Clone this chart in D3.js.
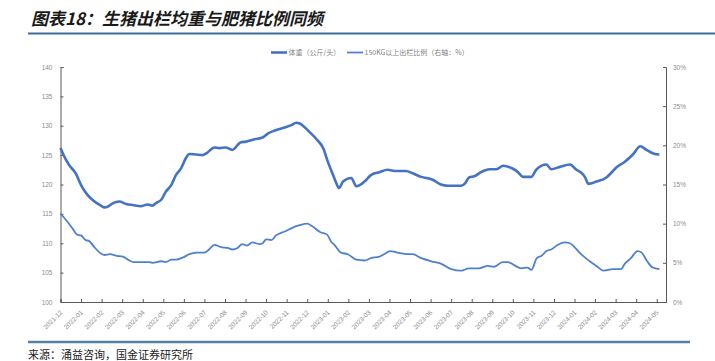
<!DOCTYPE html>
<html><head><meta charset="utf-8">
<script src="https://cdn.jsdelivr.net/npm/d3@7"></script>
<style>html,body{margin:0;padding:0;background:#fff;}</style>
</head><body>
<svg id="c" width="715" height="361"></svg>
<script>
const titleText = "图表18：生猪出栏均重与肥猪比例同频";
const sourceText = "来源：涌益咨询，国金证券研究所";
const seriesNames = ["体重（公斤/头）", "150KG以上出栏比例（右轴：%）"];
const xTickLabels = ["2021-12","2022-01","2022-02","2022-03","2022-04","2022-05","2022-06","2022-07","2022-08","2022-09","2022-10","2022-11","2022-12","2023-01","2023-02","2023-03","2023-04","2023-05","2023-06","2023-07","2023-08","2023-09","2023-10","2023-11","2023-12","2024-01","2024-02","2024-03","2024-04","2024-05"];
const leftTicks = [100,105,110,115,120,125,130,135,140];
const rightTicks = [0,5,10,15,20,25,30];

const weightDates = ["2021-12-01","2021-12-07","2021-12-14","2021-12-24","2022-01-01","2022-01-11","2022-01-18","2022-01-31","2022-02-05","2022-02-09","2022-02-16","2022-02-25","2022-03-07","2022-03-17","2022-03-29","2022-04-08","2022-04-15","2022-04-21","2022-04-28","2022-05-05","2022-05-13","2022-05-20","2022-05-28","2022-06-04","2022-06-09","2022-06-19","2022-06-28","2022-07-05","2022-07-16","2022-07-23","2022-08-02","2022-08-12","2022-08-25","2022-09-02","2022-09-14","2022-09-26","2022-10-04","2022-10-14","2022-10-29","2022-11-08","2022-11-15","2022-11-20","2022-12-02","2022-12-15","2022-12-25","2023-01-01","2023-01-09","2023-01-14","2023-01-18","2023-01-24","2023-02-05","2023-02-12","2023-02-23","2023-03-04","2023-03-17","2023-03-29","2023-04-11","2023-04-25","2023-05-05","2023-05-18","2023-06-04","2023-06-16","2023-06-26","2023-07-16","2023-07-22","2023-07-28","2023-08-05","2023-08-15","2023-08-28","2023-09-07","2023-09-17","2023-09-29","2023-10-09","2023-10-16","2023-10-29","2023-11-05","2023-11-13","2023-11-20","2023-11-27","2023-12-10","2023-12-25","2024-01-04","2024-01-14","2024-01-17","2024-01-22","2024-02-03","2024-02-17","2024-02-24","2024-03-02","2024-03-14","2024-03-27","2024-04-07","2024-04-16","2024-04-28","2024-05-05"];
const weightValues = [126.2,124.7,123.3,121.9,119.9,118.2,117.4,116.4,116.1,116.2,116.8,117.1,116.7,116.5,116.3,116.6,116.4,116.9,117.4,118.8,119.9,121.6,122.8,124.5,125.2,125.1,125.0,125.4,126.3,126.2,126.3,125.9,127.2,127.3,127.7,128.0,128.7,129.2,129.7,130.1,130.5,130.4,129.2,127.7,126.2,123.9,121.6,120.2,119.4,120.5,121.1,119.7,120.5,121.6,122.1,122.5,122.3,122.3,121.9,121.3,120.8,120.0,119.8,119.8,120.2,121.2,121.4,122.1,122.6,122.6,123.2,122.8,122.1,121.3,121.3,122.5,123.2,123.4,122.6,123.0,123.4,122.5,121.7,121.2,120.1,120.5,121.2,122.0,122.9,123.8,125.1,126.5,125.9,125.2,125.1];

const ratioDates = ["2021-12-01","2021-12-09","2021-12-19","2021-12-26","2022-01-01","2022-01-08","2022-01-13","2022-01-20","2022-01-31","2022-02-05","2022-02-12","2022-02-22","2022-03-02","2022-03-12","2022-03-18","2022-03-31","2022-04-10","2022-04-15","2022-04-28","2022-05-05","2022-05-13","2022-05-20","2022-05-31","2022-06-09","2022-06-19","2022-07-01","2022-07-08","2022-07-16","2022-07-26","2022-08-05","2022-08-12","2022-08-20","2022-08-27","2022-09-03","2022-09-11","2022-09-21","2022-09-26","2022-10-01","2022-10-09","2022-10-16","2022-10-29","2022-11-10","2022-11-20","2022-12-01","2022-12-08","2022-12-21","2022-12-31","2023-01-06","2023-01-11","2023-01-21","2023-01-31","2023-02-12","2023-02-23","2023-03-04","2023-03-17","2023-03-24","2023-04-02","2023-04-13","2023-04-28","2023-05-05","2023-05-18","2023-06-02","2023-06-16","2023-07-01","2023-07-16","2023-07-28","2023-08-12","2023-08-25","2023-09-04","2023-09-16","2023-09-24","2023-10-03","2023-10-14","2023-10-23","2023-10-29","2023-11-06","2023-11-13","2023-11-20","2023-11-27","2023-12-07","2023-12-17","2023-12-25","2024-01-01","2024-01-11","2024-01-24","2024-02-03","2024-02-13","2024-02-26","2024-03-09","2024-03-15","2024-03-24","2024-04-03","2024-04-09","2024-04-17","2024-04-25","2024-05-05"];
const ratioValues = [11.3,10.5,9.4,8.6,8.5,7.9,7.8,7.1,6.2,6.0,6.1,5.9,5.8,5.3,5.1,5.1,5.1,5.0,5.2,5.1,5.4,5.4,5.7,6.1,6.3,6.3,6.7,7.3,7.0,6.9,6.7,6.9,7.4,7.2,7.6,7.4,7.5,8.0,7.9,8.5,9.0,9.5,9.8,10.0,9.7,8.9,8.6,7.7,7.3,6.3,6.1,5.4,5.3,5.6,5.8,6.1,6.5,6.3,6.1,6.1,5.6,5.2,4.9,4.2,4.0,4.3,4.3,4.6,4.5,5.1,5.1,4.7,4.3,4.4,4.1,5.6,5.9,6.5,6.7,7.3,7.6,7.5,7.0,6.1,5.2,4.6,4.0,4.2,4.2,4.9,5.6,6.5,6.3,5.2,4.4,4.2];

// date string -> fractional month index, 0 = 2021-12
function monthIndex(s){
  const [y,m,d] = s.split("-").map(Number);
  const dim = new Date(y, m, 0).getDate();
  return (y-2021)*12 + (m-12) + (d-1)/dim;
}

const svg = d3.select("#c");
const font = "Arial, 'Liberation Sans', 'Noto Sans CJK SC', sans-serif";
const cjk = "'Noto Sans CJK SC', sans-serif";

// title
svg.append("text").attr("x",31).attr("y",25).text(titleText)
  .attr("font-family",cjk).attr("font-size",17).attr("font-weight","bold")
  .attr("font-style","italic").attr("fill","#1a1a1a");
svg.append("line").attr("x1",28).attr("x2",715).attr("y1",33.5).attr("y2",33.5)
  .attr("stroke","#3b6ea5").attr("stroke-width",1.8);

// plot area
const L = 60.5, R = 666, T = 67, B = 302;
const x = d3.scaleLinear().domain([0, 29.45]).range([L, R]);
const yL = d3.scaleLinear().domain([100,140]).range([B, T]);
const yR = d3.scaleLinear().domain([0,30]).range([B, T]);

const axisColor = "#595959", labelColor = "#8c8c8c";

// left axis
const gl = svg.append("g").attr("transform",`translate(${L},0)`)
  .call(d3.axisLeft(yL).tickValues(leftTicks).tickSize(-3).tickPadding(8));
// right axis
const gr = svg.append("g").attr("transform",`translate(${R},0)`)
  .call(d3.axisRight(yR).tickValues(rightTicks).tickSize(-3).tickPadding(7).tickFormat(d=>d+"%"));
// bottom axis
const gb = svg.append("g").attr("transform",`translate(0,${B})`)
  .call(d3.axisBottom(x).tickValues(d3.range(xTickLabels.length)).tickSize(-3).tickPadding(4)
    .tickFormat(i=>xTickLabels[i]));
[gl,gr,gb].forEach(g=>{
  g.select(".domain").attr("stroke",axisColor).attr("stroke-width",1);
  g.selectAll(".tick line").attr("stroke",axisColor);
  g.selectAll("text").attr("fill",labelColor).attr("font-family",font).attr("font-size",6.5);
});
gb.selectAll(".tick text").attr("text-anchor","end").attr("dy",null)
  .attr("transform","translate(-1,8) rotate(-45)");

// lines
const wData = weightDates.map((d,i)=>({x:monthIndex(d), v:weightValues[i]}));
const rData = ratioDates.map((d,i)=>({x:monthIndex(d), v:ratioValues[i]}));
svg.append("path").datum(rData)
  .attr("d", d3.line().x(d=>x(d.x)).y(d=>yR(d.v)).curve(d3.curveMonotoneX))
  .attr("fill","none").attr("stroke","#4e80cf").attr("stroke-width",1.8);
svg.append("path").datum(wData)
  .attr("d", d3.line().x(d=>x(d.x)).y(d=>yL(d.v)).curve(d3.curveMonotoneX))
  .attr("fill","none").attr("stroke","#4472c4").attr("stroke-width",2.6);

// legend
const lg = svg.append("g");
lg.append("line").attr("x1",271).attr("x2",287).attr("y1",52.5).attr("y2",52.5)
  .attr("stroke","#4472c4").attr("stroke-width",2.6);
lg.append("text").attr("x",288.5).attr("y",55).text(seriesNames[0])
  .attr("font-family",cjk).attr("font-size",7).attr("fill","#7f7f7f");
lg.append("line").attr("x1",347).attr("x2",363).attr("y1",52.5).attr("y2",52.5)
  .attr("stroke","#4e80cf").attr("stroke-width",1.8);
lg.append("text").attr("x",364.5).attr("y",55).text(seriesNames[1])
  .attr("font-family",cjk).attr("font-size",7).attr("fill","#7f7f7f");

// bottom rule + source
svg.append("line").attr("x1",28).attr("x2",690).attr("y1",342).attr("y2",342)
  .attr("stroke","#55809f").attr("stroke-width",2.4);
svg.append("text").attr("x",28).attr("y",359).text(sourceText)
  .attr("font-family",cjk).attr("font-size",11).attr("fill","#1a1a1a");
</script>
</body></html>
